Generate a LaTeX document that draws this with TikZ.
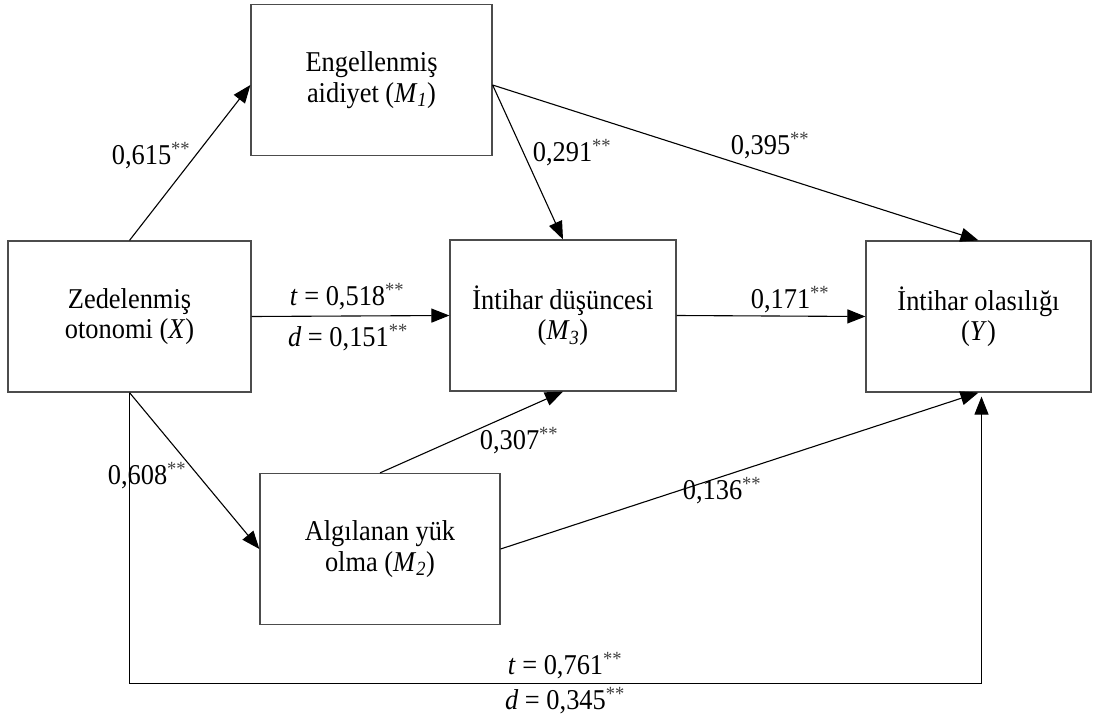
\documentclass[tikz,border=0pt]{standalone}
\usepackage{fontspec}
\setmainfont[FakeStretch=0.92]{Liberation Serif}
\usetikzlibrary{arrows.meta,calc}
\newcommand\sig{\textsuperscript{\color{black!75}**}}
\newcommand\var[2]{\textit{#1}\textsubscript{\textit{#2}}}
\begin{document}
\begin{tikzpicture}[x=1pt,y=-1pt,
  txt/.style={font=\fontsize{28.7}{30.5}\selectfont},
  box/.style={txt,draw=black!70,line width=1.2pt,minimum width=#1,minimum height=151pt,
    align=center,inner sep=0pt},
  conn/.style={draw=black,line width=1.1pt,-{Triangle[length=18pt,width=14pt]}},
  lab/.style={txt,inner sep=0pt,anchor=center}]
\useasboundingbox (0,0) rectangle (1096,720);

% variables
\node[box=241pt] (m1) at (371.5,80) {Engellenmiş\\aidiyet (\var{M}{1})};
\node[box=243pt] (x)  at (129.5,316.5) {Zedelenmiş\\otonomi (\textit{X})};
\node[box=226pt] (m3) at (563,315.5) {İntihar düşüncesi\\(\var{M}{3})};
\node[box=225pt] (y)  at (978.5,316.5) {İntihar olasılığı\\(\textit{Y})};
\node[box=240pt] (m2) at (380,549) {Algılanan yük\\olma (\var{M}{2})};
\coordinate (base) at (0,683);

% paths
\draw[conn] (x.north) -- ([yshift=-5pt]m1.west);
\draw[conn] (x.south) -- (m2.west);
\draw[conn] (x.east) -- (m3.west);
\draw[conn] ([yshift=-5pt]m1.east) -- (m3.north);
\draw[conn] ([yshift=-5pt]m1.east) -- (y.north);
\draw[conn] (m3.east) -- (y.west);
\draw[conn] (m2.north) -- (m3.south);
\draw[conn] (m2.east) -- (y.south);
\draw[conn,line width=1pt] (x.south) -- (x.south |- base) -| ([xshift=3pt,yshift=-4pt]y.south);

% coefficients
\node[lab] (c1) at (151,156) {0,615\sig};
\node[lab] (c2) at (572,153) {0,291\sig};
\node[lab] (c3) at (770,146) {0,395\sig};
\node[lab] (c4) at (347,297) {\textit{t} = 0,518\sig};
\node[lab] (c5) at (348,338) {\textit{d} = 0,151\sig};
\node[lab] (c6) at (790,300) {0,171\sig};
\node[lab] (c7) at (519,441) {0,307\sig};
\node[lab] (c8) at (147,476) {0,608\sig};
\node[lab] (c9) at (722,491) {0,136\sig};
\node[lab] (c10) at (565,666) {\textit{t} = 0,761\sig};
\node[lab] (c11) at (565,701) {\textit{d} = 0,345\sig};
\end{tikzpicture}
\end{document}
